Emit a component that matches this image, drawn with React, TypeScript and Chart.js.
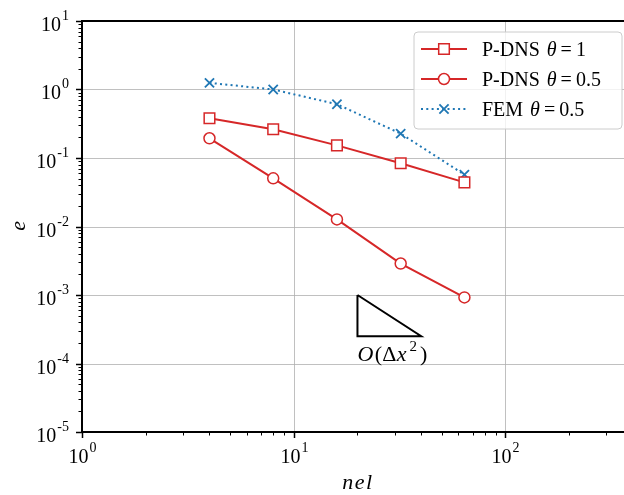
import React, { useEffect, useRef } from "react";
import { Chart, registerables } from "chart.js";

Chart.register(...registerables);

// ---- data ----
const nel = [4, 8, 16, 32, 64];
const pdnsTheta1 = [0.38, 0.263, 0.153, 0.0837, 0.0441];
const pdnsTheta05 = [0.194, 0.0505, 0.0127, 0.00288, 0.000922];
const femTheta05 = [1.25, 1.0, 0.61, 0.227, 0.0572];

// slope triangle O(dx^2)
const slopeX = [20, 20, 40, 20];
const slopeY = [1e-3, 2.5e-4, 2.5e-4, 1e-3];
const slopeLabelAt = { x: 20, y: 1.07e-4 };

const xMin = 1;
const xMax = 363;
const yMin = 1e-5;
const yMax = 10;
const xDecades = [0, 1, 2];
const yDecades = [1, 0, -1, -2, -3, -4, -5];

const seriesNames = ["P-DNS", "P-DNS", "FEM"];
const seriesTheta = ["1", "0.5", "0.5"];

const RED = "#d62728";
const BLUE = "#1f77b4";
const SERIF = '"Liberation Serif", "Times New Roman", serif';

function drawPow(ctx: CanvasRenderingContext2D, exp: number, x: number, base: number, align: "right" | "center") {
  ctx.font = `20px ${SERIF}`;
  const wMain = ctx.measureText("10").width;
  ctx.font = `14px ${SERIF}`;
  const expStr = exp < 0 ? "-" + Math.abs(exp) : String(exp);
  const wExp = ctx.measureText(expStr).width + 1;
  const total = wMain + wExp;
  const left = align === "right" ? x - total : x - total / 2;
  ctx.textAlign = "left";
  ctx.textBaseline = "alphabetic";
  ctx.font = `20px ${SERIF}`;
  ctx.fillText("10", left, base);
  ctx.font = `14px ${SERIF}`;
  ctx.fillText(expStr, left + wMain + 1, base - 11);
}

function drawSegments(ctx: CanvasRenderingContext2D, segs: { t: string; f: string; dx?: number; dy?: number }[], x: number, base: number) {
  let cx = x;
  ctx.textAlign = "left";
  ctx.textBaseline = "alphabetic";
  for (const s of segs) {
    cx += s.dx || 0;
    ctx.font = s.f;
    ctx.fillText(s.t, cx, base + (s.dy || 0));
    cx += ctx.measureText(s.t).width;
  }
}

function drawMarker(ctx: CanvasRenderingContext2D, d: any, x: number, y: number) {
  ctx.save();
  ctx.strokeStyle = d.pointBorderColor;
  ctx.fillStyle = d.pointBackgroundColor;
  ctx.lineWidth = d.pointBorderWidth;
  const r = d.pointRadius;
  ctx.beginPath();
  if (d.pointStyle === "rect") {
    const s = r * Math.SQRT1_2;
    ctx.rect(x - s, y - s, 2 * s, 2 * s);
    ctx.fill();
    ctx.stroke();
  } else if (d.pointStyle === "circle") {
    ctx.arc(x, y, r, 0, Math.PI * 2);
    ctx.fill();
    ctx.stroke();
  } else {
    const s = r * Math.SQRT1_2;
    ctx.moveTo(x - s, y - s);
    ctx.lineTo(x + s, y + s);
    ctx.moveTo(x - s, y + s);
    ctx.lineTo(x + s, y - s);
    ctx.stroke();
  }
  ctx.restore();
}

const decor = {
  id: "decor",
  beforeDatasetsDraw(chart: any) {
    const { ctx, chartArea: a, scales } = chart;
    const xs = scales.x, ys = scales.y;
    ctx.save();
    ctx.strokeStyle = "#b0b0b0";
    ctx.lineWidth = 0.8;
    for (const d of xDecades) {
      const px = Math.round(xs.getPixelForValue(Math.pow(10, d))) + 0.5;
      if (px > a.left + 1 && px < a.right - 1) {
        ctx.beginPath();
        ctx.moveTo(px, a.top);
        ctx.lineTo(px, a.bottom);
        ctx.stroke();
      }
    }
    for (const d of yDecades) {
      const py = Math.round(ys.getPixelForValue(Math.pow(10, d))) + 0.5;
      if (py > a.top + 1 && py < a.bottom - 1) {
        ctx.beginPath();
        ctx.moveTo(a.left, py);
        ctx.lineTo(a.right, py);
        ctx.stroke();
      }
    }
    ctx.restore();
  },
  afterDraw(chart: any) {
    const { ctx, chartArea: a, scales } = chart;
    const xs = scales.x, ys = scales.y;
    ctx.save();
    ctx.fillStyle = "#000";
    ctx.strokeStyle = "#000";

    // tick marks
    ctx.lineWidth = 1;
    for (let d = -5; d <= 0; d++) {
      for (let m = 2; m <= 9; m++) {
        const py = Math.round(ys.getPixelForValue(m * Math.pow(10, d))) + 0.5;
        ctx.beginPath();
        ctx.moveTo(a.left - 3.5, py);
        ctx.lineTo(a.left, py);
        ctx.stroke();
      }
    }
    for (let d = 0; d <= 2; d++) {
      for (let m = 2; m <= 9; m++) {
        const v = m * Math.pow(10, d);
        if (v > xMax) continue;
        const px = Math.round(xs.getPixelForValue(v)) + 0.5;
        ctx.beginPath();
        ctx.moveTo(px, a.bottom);
        ctx.lineTo(px, a.bottom + 3.5);
        ctx.stroke();
      }
    }
    ctx.lineWidth = 1.5;
    for (const d of yDecades) {
      const py = Math.round(ys.getPixelForValue(Math.pow(10, d))) + 0.5;
      ctx.beginPath();
      ctx.moveTo(a.left - 6, py);
      ctx.lineTo(a.left, py);
      ctx.stroke();
      drawPow(ctx, d, a.left - 13, py + 9, "right");
    }
    for (const d of xDecades) {
      const px = Math.round(xs.getPixelForValue(Math.pow(10, d))) + 0.5;
      ctx.beginPath();
      ctx.moveTo(px, a.bottom);
      ctx.lineTo(px, a.bottom + 6);
      ctx.stroke();
      drawPow(ctx, d, px, a.bottom + 31, "center");
    }

    // spines
    ctx.lineWidth = 2;
    ctx.beginPath();
    ctx.moveTo(a.right + 2, a.top);
    ctx.lineTo(a.left, a.top);
    ctx.lineTo(a.left, a.bottom);
    ctx.lineTo(a.right + 2, a.bottom);
    ctx.stroke();

    // axis titles
    ctx.font = `italic 22px ${SERIF}`;
    ctx.textAlign = "center";
    ctx.textBaseline = "middle";
    (ctx as any).letterSpacing = "1.5px";
    ctx.fillText("nel", 358, 483);
    ctx.save();
    ctx.translate(19, 225);
    ctx.rotate(-Math.PI / 2);
    ctx.fillText("e", 0, 0);
    ctx.restore();
    (ctx as any).letterSpacing = "0px";

    // slope label
    const lx = xs.getPixelForValue(slopeLabelAt.x);
    const ly = ys.getPixelForValue(slopeLabelAt.y);
    drawSegments(ctx, [
      { t: "O", f: `italic 22px ${SERIF}` },
      { t: "(", f: `22px ${SERIF}`, dx: 1.5 },
      { t: "Δ", f: `22px ${SERIF}` },
      { t: "x", f: `italic 22px ${SERIF}`, dx: 0.5 },
      { t: "2", f: `15px ${SERIF}`, dx: 3, dy: -10 },
      { t: ")", f: `22px ${SERIF}`, dx: 3 },
    ], lx, ly);

    // legend
    const bx = 414, by = 32, bw = 208, bh = 97, r = 4;
    ctx.beginPath();
    ctx.moveTo(bx + r, by);
    ctx.arcTo(bx + bw, by, bx + bw, by + bh, r);
    ctx.arcTo(bx + bw, by + bh, bx, by + bh, r);
    ctx.arcTo(bx, by + bh, bx, by, r);
    ctx.arcTo(bx, by, bx + bw, by, r);
    ctx.closePath();
    ctx.fillStyle = "rgba(255,255,255,0.8)";
    ctx.fill();
    ctx.strokeStyle = "#cccccc";
    ctx.lineWidth = 1;
    ctx.stroke();

    const ds = chart.data.datasets;
    for (let i = 0; i < 3; i++) {
      const cy = 49 + i * 30;
      const d = ds[i];
      ctx.save();
      ctx.strokeStyle = d.borderColor;
      ctx.lineWidth = d.borderWidth;
      if (d.borderDash) ctx.setLineDash(d.borderDash);
      ctx.beginPath();
      ctx.moveTo(421, cy);
      ctx.lineTo(467, cy);
      ctx.stroke();
      ctx.restore();
      drawMarker(ctx, d, 444, cy);
      ctx.fillStyle = "#000";
      drawSegments(ctx, [
        { t: seriesNames[i], f: `20px ${SERIF}` },
        { t: "θ", f: `italic 20px ${SERIF}`, dx: 7 },
        { t: "=", f: `20px ${SERIF}`, dx: 4 },
        { t: seriesTheta[i], f: `20px ${SERIF}`, dx: 4 },
      ], 482, cy + 7);
    }
    ctx.restore();
  },
};

export default function App() {
  const ref = useRef<HTMLCanvasElement | null>(null);
  useEffect(() => {
    document.body.style.margin = "0";
    if (!ref.current) return;
    const chart = new Chart(ref.current, {
      type: "line",
      data: {
        datasets: [
          {
            label: "P-DNS θ = 1",
            data: nel.map((x, i) => ({ x, y: pdnsTheta1[i] })),
            borderColor: RED,
            borderWidth: 2,
            pointStyle: "rect",
            pointRadius: 7.5,
            pointBackgroundColor: "#ffffff",
            pointBorderColor: RED,
            pointBorderWidth: 1.5,
          },
          {
            label: "P-DNS θ = 0.5",
            data: nel.map((x, i) => ({ x, y: pdnsTheta05[i] })),
            borderColor: RED,
            borderWidth: 2,
            pointStyle: "circle",
            pointRadius: 5.5,
            pointBackgroundColor: "#ffffff",
            pointBorderColor: RED,
            pointBorderWidth: 1.5,
          },
          {
            label: "FEM θ = 0.5",
            data: nel.map((x, i) => ({ x, y: femTheta05[i] })),
            borderColor: BLUE,
            borderWidth: 2,
            borderDash: [2, 3.3],
            pointStyle: "crossRot",
            pointRadius: 6.5,
            pointBackgroundColor: BLUE,
            pointBorderColor: BLUE,
            pointBorderWidth: 1.8,
          },
          {
            label: "slope",
            data: slopeX.map((x, i) => ({ x, y: slopeY[i] })),
            borderColor: "#000000",
            borderWidth: 2,
            pointRadius: 0,
            borderJoinStyle: "miter",
          } as any,
        ],
      },
      options: {
        animation: false,
        responsive: false,
        devicePixelRatio: 1,
        layout: { autoPadding: false, padding: { top: 21, right: 0, left: 0, bottom: 0 } },
        plugins: { legend: { display: false }, tooltip: { enabled: false } },
        scales: {
          x: {
            type: "logarithmic",
            min: xMin,
            max: xMax,
            grid: { display: false },
            border: { display: false },
            ticks: { display: false },
            afterFit: (s: any) => { s.height = 63; },
          },
          y: {
            type: "logarithmic",
            min: yMin,
            max: yMax,
            grid: { display: false },
            border: { display: false },
            ticks: { display: false },
            afterFit: (s: any) => { s.width = 82; },
          },
        },
      } as any,
      plugins: [decor],
    });
    return () => chart.destroy();
  }, []);
  return <canvas ref={ref} width={624} height={495} style={{ display: "block" }} />;
}
